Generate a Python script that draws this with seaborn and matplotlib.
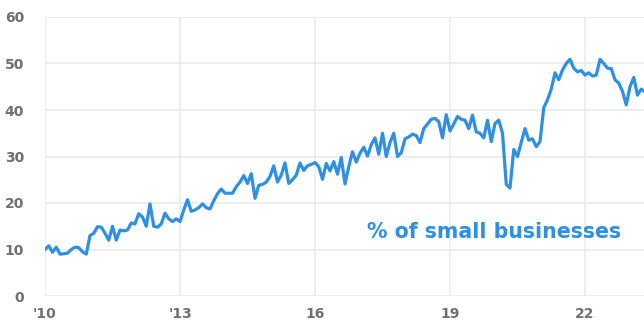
import numpy as np
import pandas as pd
import matplotlib
matplotlib.use("Agg")
import matplotlib.pyplot as plt
import seaborn as sns

# Monthly share (% of small businesses), Jan 2010 onward
start_year = 2010
values = [
    10, 10.8, 9.4, 10.5, 9, 9.1, 9.2, 10, 10.5, 10.4, 9.5, 9,            # 2010
    13, 13.5, 14.9, 14.8, 13.5, 12, 15, 12, 14.2, 14, 14.2, 15.7,        # 2011
    15.5, 17.7, 17, 15, 19.8, 15, 14.8, 15.5, 17.8, 16.6, 16, 16.6,      # 2012
    16, 18.5, 20.7, 18.2, 18.5, 19, 19.8, 19, 18.7, 20.5, 22, 23,        # 2013
    22.1, 22.1, 22.1, 23.5, 24.5, 25.9, 24.2, 26.3, 21, 23.8, 24, 24.5,  # 2014
    25.7, 28, 24.5, 26, 28.6, 24.2, 25, 26, 28.6, 27, 28, 28.3,          # 2015
    28.7, 27.8, 25.1, 28.5, 26.9, 28.9, 26.2, 29.8, 24.1, 27.8, 31, 28.8,  # 2016
    30.7, 32, 30.1, 32.5, 34, 30.5, 35, 30, 33, 35, 30, 30.8,            # 2017
    33.8, 34.2, 34.8, 34.5, 33, 36, 37, 38, 38.2, 37.5, 34, 39,          # 2018
    35.5, 37, 38.6, 38, 37.8, 36, 38.9, 35.3, 35, 34, 37.8, 33.2,        # 2019
    37.1, 37.8, 35, 24, 23.2, 31.5, 30, 33, 36, 33.5, 33.8, 32.1,        # 2020
    33.2, 40.5, 42.2, 44.5, 48, 46.5, 48.6, 50, 50.9, 49, 48.2, 48.5,    # 2021
    47.5, 48, 47.3, 47.5, 50.9, 50, 49, 48.9, 46.5, 45.8, 44, 41.1,      # 2022
    45, 47, 43.2, 44.5, 43.9,                                            # 2023
]
x_ticks = [2010, 2013, 2016, 2019, 2022]
x_tick_labels = ["'10", "'13", "16", "19", "22"]
y_ticks = [0, 10, 20, 30, 40, 50, 60]
label_text = "% of small businesses"

df = pd.DataFrame({
    "year": start_year + np.arange(len(values)) / 12.0,
    "pct": values,
})

sns.set_style("white")
plt.rcParams["font.family"] = ["DejaVu Sans"]

fig = plt.figure(figsize=(6.44, 3.25), dpi=100)
ax = fig.add_axes([45 / 644, 29 / 325, 1 - 45 / 644, (296 - 17) / 325])

line_color = "#2D90E2"
sns.lineplot(data=df, x="year", y="pct", ax=ax, color=line_color,
             linewidth=2.3, clip_on=True)

ax.set_xlim(2010, 2010 + 599 / 45)
ax.set_ylim(0, 60)
ax.set_xticks(x_ticks)
ax.set_xticklabels(x_tick_labels)
ax.set_yticks(y_ticks)
ax.grid(True, color="#ebebeb", linewidth=1.2)
ax.set_axisbelow(True)
for s in ax.spines.values():
    s.set_visible(False)
ax.tick_params(axis="both", length=0, labelsize=10, colors="#707070")
ax.tick_params(axis="y", pad=15)
ax.tick_params(axis="x", pad=8)
for t in ax.get_xticklabels() + ax.get_yticklabels():
    t.set_fontweight("bold")
ax.set_xlabel("")
ax.set_ylabel("")

ax.text(0.962, 0.228, label_text, transform=ax.transAxes, ha="right",
        va="center", color=line_color, fontsize=14.8, fontweight="bold")

fig.savefig("out.png", dpi=100)
